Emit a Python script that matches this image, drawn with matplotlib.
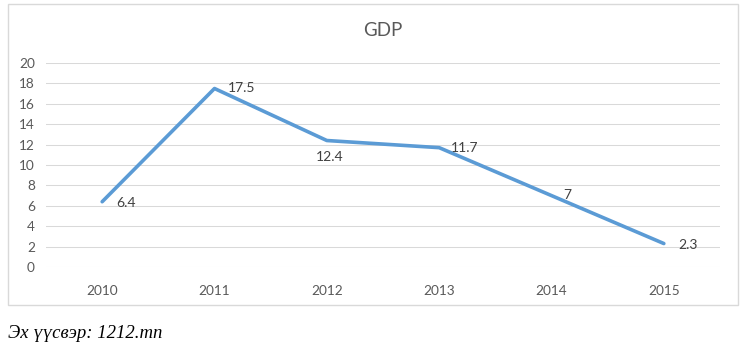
import matplotlib.pyplot as plt
from matplotlib.patches import Rectangle

years = ['2010', '2011', '2012', '2013', '2014', '2015']
gdp = [6.4, 17.5, 12.4, 11.7, 7, 2.3]
# label offsets in pixels (dx, dy) and alignment, like Excel data labels
label_pos = [(14, -1, 'left'), (13, 0, 'left'), (3, -16, 'center'),
             (12, 0, 'left'), (12, 1, 'left'), (14, -1, 'left')]

plt.rcParams['font.family'] = ['Lato', 'DejaVu Sans']

fig = plt.figure(figsize=(7.5, 3.54), dpi=100)
ax = fig.add_axes([46/750, 1-267/354, 674/750, 204/354])

# chart border
fig.patches.append(Rectangle((8/750, 1-305/354), 730/750, 301/354,
                             transform=fig.transFigure, fill=False,
                             edgecolor='#D9D9D9', linewidth=1))

x = range(len(years))
ax.plot(x, gdp, color='#5B9BD5', linewidth=2.6, solid_capstyle='round')

for i, v in enumerate(gdp):
    dx, dy, ha = label_pos[i]
    lbl = ('%g' % v)
    ax.annotate(lbl, (i, v), xytext=(dx*0.72, dy*0.72), textcoords='offset points',
                ha=ha, va='center', fontsize=10, color='#404040')

ax.set_xlim(-0.5, 5.5)
ax.set_ylim(0, 20)
ax.set_yticks(range(0, 21, 2))
ax.set_xticks(list(x))
ax.set_xticklabels(years)
ax.grid(axis='y', color='#D9D9D9', linewidth=0.75)
ax.set_axisbelow(True)
for s in ax.spines.values():
    s.set_visible(False)
ax.tick_params(length=0, labelsize=9.8, labelcolor='#595959')
ax.tick_params(axis='x', pad=13)
ax.tick_params(axis='y', pad=8)

fig.text(383/750, 1-30/354, 'GDP', ha='center', va='center', fontsize=13.5, color='#595959')
fig.text(8/750, 1-333/354, 'Эх үүсвэр: 1212.mn', ha='left', va='center',
         fontsize=13.5, family='Liberation Serif', style='italic', color='black')

fig.savefig('out.png', dpi=100)
